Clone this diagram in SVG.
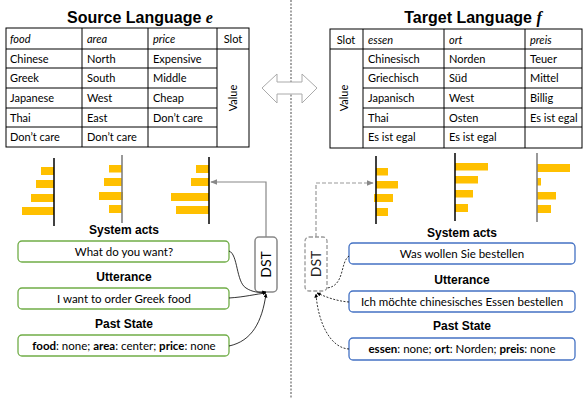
<svg xmlns="http://www.w3.org/2000/svg" width="584" height="398" viewBox="0 0 584 398">
<defs>
<style>
.title{font-family:"Liberation Sans",Arial,sans-serif;font-weight:bold;font-size:16px;text-anchor:middle}
.var{font-family:"Liberation Serif",serif;font-style:italic;font-weight:bold}
.cell{font-family:Lato,"Liberation Sans",sans-serif;font-size:11px}
.hdr{font-style:italic}
.tl{stroke:#000;stroke-width:1;fill:none}
.bar{fill:#FFC000}
.axk{stroke:#000;stroke-width:1.5}
.axg{stroke:#777;stroke-width:1.5}
.head{font-family:"Liberation Sans",Arial,sans-serif;font-weight:bold;font-size:12px;text-anchor:middle}
.btxt{font-family:Lato,"Liberation Sans",sans-serif;font-size:11.5px;text-anchor:middle}
.gbox{fill:#fff;stroke:#70AD47;stroke-width:1.3}
.bbox{fill:#fff;stroke:#4472C4;stroke-width:1.3}
.dst{font-family:Lato,"Liberation Sans",sans-serif;font-size:14px;text-anchor:middle}
.curve{fill:none;stroke:#000;stroke-width:0.8}
.dcurve{fill:none;stroke:#000;stroke-width:0.8;stroke-dasharray:2 1.5}
</style>
<marker id="ah" viewBox="0 0 10 10" refX="9" refY="5" markerWidth="5" markerHeight="5" orient="auto"><path d="M0,0 L10,5 L0,10 z" fill="#000"/></marker>
<marker id="ahg" viewBox="0 0 10 10" refX="9" refY="5" markerWidth="6" markerHeight="6" orient="auto"><path d="M0,1 L10,5 L0,9 z" fill="#888"/></marker>
</defs>
<rect width="584" height="398" fill="#fff"/>

<!-- divider -->
<line x1="291" y1="0" x2="291" y2="398" stroke="#888" stroke-width="1.5" stroke-dasharray="2 1.5"/>
<polygon points="262,88 277,74 277,82 302,82 302,74 317,88 302,103 302,94 277,94 277,103" fill="#fff" stroke="#aaa" stroke-width="1"/>

<!-- Source table -->
<g id="source-table">
<text class="title" x="140" y="23">Source Language <tspan class="var">e</tspan></text>
<rect class="tl" x="6" y="28" width="243" height="119"/>
<line class="tl" x1="82" y1="28" x2="82" y2="147"/>
<line class="tl" x1="148" y1="28" x2="148" y2="147"/>
<line class="tl" x1="217" y1="28" x2="217" y2="147"/>
<line class="tl" x1="6" y1="49" x2="249" y2="49"/>
<line class="tl" x1="6" y1="68" x2="217" y2="68"/>
<line class="tl" x1="6" y1="88" x2="217" y2="88"/>
<line class="tl" x1="6" y1="108" x2="217" y2="108"/>
<line class="tl" x1="6" y1="127" x2="217" y2="127"/>
<g class="cell">
<text class="hdr" x="10" y="43">food</text>
<text class="hdr" x="87" y="43">area</text>
<text class="hdr" x="153" y="43">price</text>
<text x="233" y="43" text-anchor="middle">Slot</text>
<text x="10" y="63">Chinese</text><text x="87" y="63">North</text><text x="153" y="63">Expensive</text>
<text x="10" y="82">Greek</text><text x="87" y="82">South</text><text x="153" y="82">Middle</text>
<text x="10" y="102">Japanese</text><text x="87" y="102">West</text><text x="153" y="102">Cheap</text>
<text x="10" y="122">Thai</text><text x="87" y="122">East</text><text x="153" y="122">Don’t care</text>
<text x="10" y="141">Don’t care</text><text x="87" y="141">Don’t care</text>
<text transform="translate(237,98) rotate(-90)" text-anchor="middle">Value</text>
</g>
</g>

<!-- Target table -->
<g id="target-table">
<text class="title" x="473" y="23">Target Language <tspan class="var">f</tspan></text>
<rect class="tl" x="330" y="29" width="252" height="119"/>
<line class="tl" x1="363" y1="29" x2="363" y2="148"/>
<line class="tl" x1="444" y1="29" x2="444" y2="148"/>
<line class="tl" x1="525" y1="29" x2="525" y2="148"/>
<line class="tl" x1="330" y1="49" x2="582" y2="49"/>
<line class="tl" x1="363" y1="68" x2="582" y2="68"/>
<line class="tl" x1="363" y1="88" x2="582" y2="88"/>
<line class="tl" x1="363" y1="108" x2="582" y2="108"/>
<line class="tl" x1="363" y1="127" x2="582" y2="127"/>
<g class="cell">
<text x="346" y="44" text-anchor="middle">Slot</text>
<text class="hdr" x="368" y="44">essen</text>
<text class="hdr" x="449" y="44">ort</text>
<text class="hdr" x="530" y="44">preis</text>
<text x="368" y="63">Chinesisch</text><text x="449" y="63">Norden</text><text x="530" y="63">Teuer</text>
<text x="368" y="82">Griechisch</text><text x="449" y="82">Süd</text><text x="530" y="82">Mittel</text>
<text x="368" y="102">Japanisch</text><text x="449" y="102">West</text><text x="530" y="102">Billig</text>
<text x="368" y="122">Thai</text><text x="449" y="122">Osten</text><text x="530" y="122">Es ist egal</text>
<text x="368" y="141">Es ist egal</text><text x="449" y="141">Es ist egal</text>
<text transform="translate(348,98) rotate(-90)" text-anchor="middle">Value</text>
</g>
</g>

<!-- bar charts -->
<g id="chart-src-1">
<rect class="bar" x="41" y="167" width="13" height="8"/>
<rect class="bar" x="36" y="180" width="18" height="8"/>
<rect class="bar" x="31" y="194" width="23" height="8"/>
<rect class="bar" x="22" y="207" width="32" height="8"/>
<line class="axk" x1="54" y1="158" x2="54" y2="226"/>
</g>
<g id="chart-src-2">
<rect class="bar" x="109" y="165" width="13" height="7.5"/>
<rect class="bar" x="104" y="178" width="18" height="8"/>
<rect class="bar" x="99" y="192" width="24" height="8"/>
<rect class="bar" x="109" y="205" width="13" height="8"/>
<line class="axg" x1="122" y1="155" x2="122" y2="223"/>
</g>
<g id="chart-src-3">
<rect class="bar" x="196" y="165" width="13" height="8"/>
<rect class="bar" x="191" y="178" width="18" height="8"/>
<rect class="bar" x="171" y="193" width="38" height="8"/>
<rect class="bar" x="176" y="206" width="33" height="8"/>
<line class="axk" x1="209" y1="157" x2="209" y2="224"/>
</g>
<g id="chart-tgt-1">
<rect class="bar" x="376" y="168" width="12" height="7.5"/>
<rect class="bar" x="376" y="181" width="22" height="7.5"/>
<rect class="bar" x="374" y="194" width="19" height="8"/>
<rect class="bar" x="376" y="208" width="12" height="8"/>
<line class="axk" x1="376" y1="156" x2="376" y2="224"/>
</g>
<g id="chart-tgt-2">
<rect class="bar" x="455" y="163" width="33" height="7.5"/>
<rect class="bar" x="455" y="176" width="23" height="7.5"/>
<rect class="bar" x="455" y="190" width="18" height="7.5"/>
<rect class="bar" x="455" y="204" width="13" height="8"/>
<line class="axk" x1="455" y1="153" x2="455" y2="221"/>
</g>
<g id="chart-tgt-3">
<rect class="bar" x="537" y="164" width="33" height="8"/>
<rect class="bar" x="537" y="178" width="4" height="7.5"/>
<rect class="bar" x="537" y="192" width="19" height="7.5"/>
<rect class="bar" x="537" y="205" width="14" height="8"/>
<line class="axg" x1="537" y1="153" x2="537" y2="222"/>
</g>

<!-- source side boxes -->
<g id="src-system-acts">
<text class="head" x="124" y="234">System acts</text>
<rect class="gbox" x="18" y="241" width="211" height="21" rx="4"/>
<text class="btxt" x="124" y="256">What do you want?</text>
</g>
<g id="src-utterance">
<text class="head" x="124" y="281">Utterance</text>
<rect class="gbox" x="18" y="288" width="211" height="21" rx="4"/>
<text class="btxt" x="124" y="303">I want to order Greek food</text>
</g>
<g id="src-past-state">
<text class="head" x="124" y="328">Past State</text>
<rect class="gbox" x="18" y="335" width="211" height="21" rx="4"/>
<text class="btxt" x="124" y="350"><tspan font-weight="bold">food</tspan>: none; <tspan font-weight="bold">area</tspan>: center; <tspan font-weight="bold">price</tspan>: none</text>
</g>
<g id="src-dst">
<rect x="255" y="237" width="22" height="55" rx="4" fill="#fff" stroke="#888" stroke-width="1.5"/>
<text class="dst" transform="translate(271,264.5) rotate(-90)">DST</text>
</g>

<!-- target side boxes -->
<g id="tgt-system-acts">
<text class="head" x="462" y="237">System acts</text>
<rect class="bbox" x="349" y="243" width="226" height="21" rx="4"/>
<text class="btxt" x="462" y="258">Was wollen Sie bestellen</text>
</g>
<g id="tgt-utterance">
<text class="head" x="462" y="284">Utterance</text>
<rect class="bbox" x="349" y="291" width="226" height="21" rx="4"/>
<text class="btxt" x="462" y="306">Ich möchte chinesisches Essen bestellen</text>
</g>
<g id="tgt-past-state">
<text class="head" x="462" y="330">Past State</text>
<rect class="bbox" x="349" y="338" width="226" height="22" rx="4"/>
<text class="btxt" x="462" y="353"><tspan font-weight="bold">essen</tspan>: none; <tspan font-weight="bold">ort</tspan>: Norden; <tspan font-weight="bold">preis</tspan>: none</text>
</g>
<g id="tgt-dst">
<rect x="305" y="237" width="22" height="54" rx="4" fill="#fff" stroke="#999" stroke-width="1.3" stroke-dasharray="4 2"/>
<text class="dst" transform="translate(321,264) rotate(-90)" fill="#222">DST</text>
</g>

<!-- connectors -->
<g id="connectors">
<polyline points="266,237 266,182 211,182" fill="none" stroke="#888" stroke-width="1.2" marker-end="url(#ahg)"/>
<polyline points="316,237 316,183 373,183" fill="none" stroke="#999" stroke-width="1.2" stroke-dasharray="4 2" marker-end="url(#ahg)"/>
<path class="curve" d="M229,251 C238,254 236,282 246,288 C252,292 259,293 266,292" marker-end="url(#ah)"/>
<path class="curve" d="M229,298 C245,297 256,294 266,293" marker-end="url(#ah)"/>
<path class="curve" d="M229,346 C252,341 262,322 266,294" marker-end="url(#ah)"/>
<path class="dcurve" d="M349,256 C340,262 345,286 327,288"/>
<path class="dcurve" d="M349,302 C336,301 326,297 317,293" marker-end="url(#ah)"/>
<path class="dcurve" d="M349,349 C330,348 318,322 316,294" marker-end="url(#ah)"/>
</g>
</svg>
